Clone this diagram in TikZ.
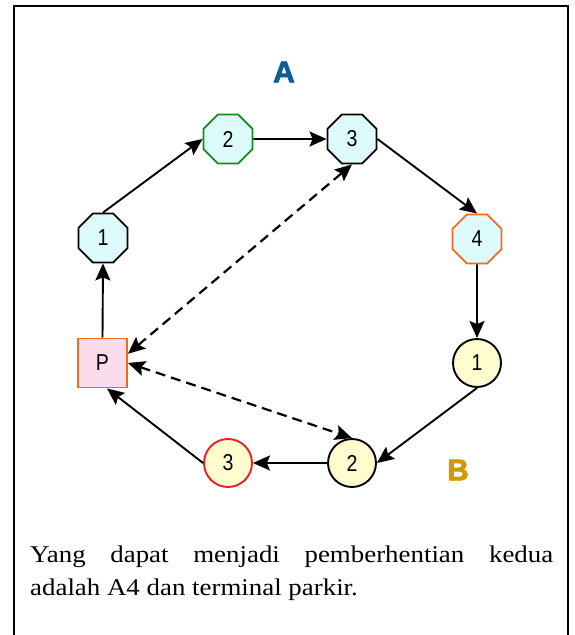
\documentclass[tikz,border=0pt]{standalone}
\usepackage{fontspec}
\setmainfont[FakeStretch=1.12]{Liberation Serif}
\setsansfont{Liberation Sans}
\newfontfamily\heavysans[RawFeature={embolden=2.5}]{Liberation Sans Bold}
\newfontfamily\narrowsans[FakeStretch=0.85]{Liberation Sans}
\usetikzlibrary{shapes.geometric,arrows.meta}

\definecolor{stopcyan}{HTML}{DDFBFB}
\definecolor{stoppink}{HTML}{FCDCEC}
\definecolor{stopyellow}{HTML}{FFFDCF}
\definecolor{edgegreen}{HTML}{138A13}
\definecolor{edgeorange}{HTML}{F26B1D}
\definecolor{edgered}{HTML}{EE1C24}
\definecolor{labelblue}{HTML}{0E5D96}
\definecolor{labelgold}{HTML}{D09B00}

\tikzset{
  x=1pt, y=-1pt,
  tip/.tip={Stealth[length=17pt,width=15pt,inset=3pt]},
  stopbase/.style={draw=black, line width=1.9pt, inner sep=0pt,
    font=\narrowsans\fontsize{23}{23}\selectfont},
  octastop/.style={stopbase, regular polygon, regular polygon sides=8,
    minimum size=53pt, fill=stopcyan},
  roundstop/.style={stopbase, circle, minimum size=48pt, fill=stopyellow},
  parkstop/.style={stopbase, rectangle, minimum size=49pt, fill=stoppink, draw=edgeorange},
  route/.style={line width=1.9pt, -tip},
  shortcut/.style={line width=2.2pt, dash pattern=on 10pt off 6pt, tip-tip},
  grouplabel/.style={font=\heavysans\fontsize{30}{30}\selectfont}
}

\begin{document}
\begin{tikzpicture}
  \useasboundingbox (0,0) rectangle (574,635);
  \clip (0,0) rectangle (574,635);

  % outer frame
  \draw[line width=2.2pt] (14,660) -- (14,6) -- (568,6) -- (568,660);

  % group A stops
  \node[octastop] (A1) at (103,238) {1};
  \node[octastop, draw=edgegreen] (A2) at (228,139) {2};
  \node[octastop] (A3) at (352,139) {3};
  \node[octastop, draw=edgeorange] (A4) at (477,239) {4};

  % group B stops
  \node[roundstop] (B1) at (477,363) {1};
  \node[roundstop] (B2) at (352,463) {2};
  \node[roundstop, draw=edgered] (B3) at (228,463) {3};

  % parking terminal
  \node[parkstop] (P) at (102.5,363) {P};

  % group labels
  \node[grouplabel, text=labelblue] (LA) at (284,72) {A};
  \node[grouplabel, text=labelgold] (LB) at (458,470) {B};

  % route
  \draw[route] (A1.north) -- (A2.west);
  \draw[route] (A2.east) -- (A3.west);
  \draw[route] (A3.east) -- (A4.north);
  \draw[route] (A4.south) -- (B1.north);
  \draw[route] (B1.south) -- (B2.east);
  \draw[route] (B2.west) -- (B3.east);
  \draw[route] (B3.west) -- (P.-80);
  \draw[route] (P.north) -- (A1.south);

  % possible second stops
  \draw[shortcut] (P.20) -- (A3.south);
  \draw[shortcut] (P.east) -- (B2.north);

  % caption
  \node[anchor=north west, inner sep=0pt, text width=523pt, align=justify,
        font=\fontsize{24}{33}\selectfont] (cap) at (30,546)
    {Yang dapat menjadi pemberhentian kedua\linebreak adalah A4 dan terminal parkir.};
\end{tikzpicture}
\end{document}
